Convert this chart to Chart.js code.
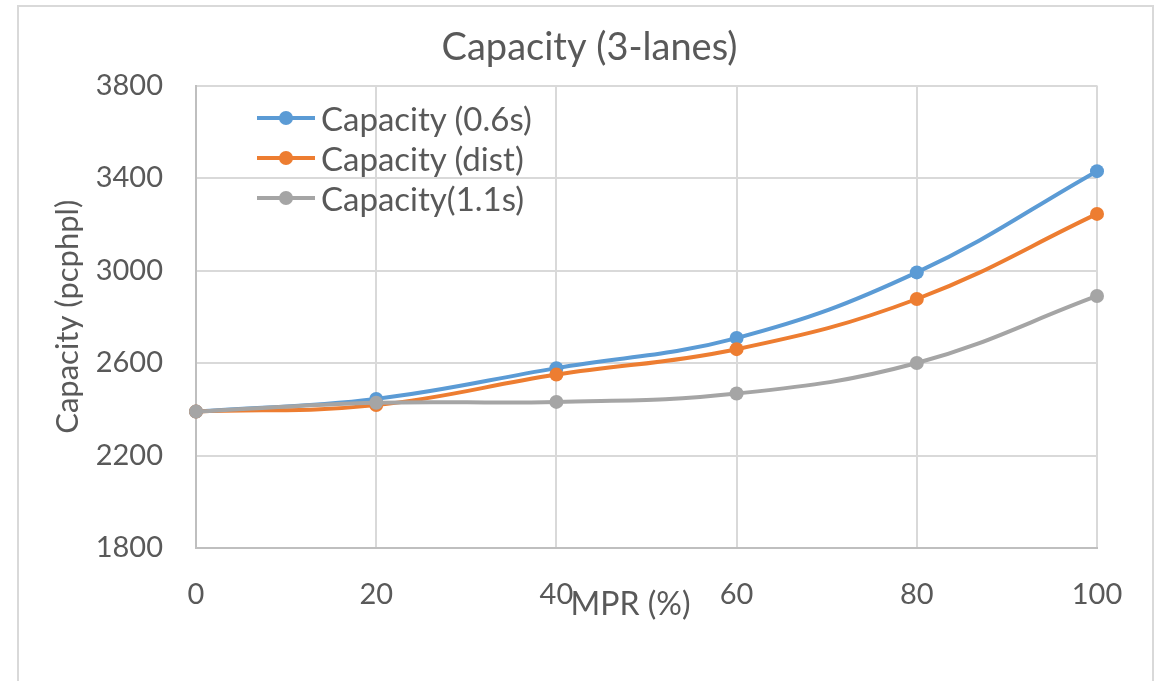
<!DOCTYPE html>
<html>
<head>
<meta charset="utf-8">
<title>Capacity (3-lanes)</title>
<script src="https://cdn.jsdelivr.net/npm/chart.js@4/dist/chart.umd.min.js"></script>
<style>
  html, body { margin: 0; padding: 0; background: #fff; }
  #wrap { position: relative; width: 1166px; height: 681px; overflow: hidden; }
  #frame {
    position: absolute; left: 17px; top: 5px; width: 1133px; height: 720px;
    border: 2px solid #d9d9d9;
  }
  #myChart { position: absolute; left: 0; top: 0; }
  #legend {
    position: absolute; left: 257px; top: 98px;
    font-family: Lato, sans-serif; font-size: 33px; color: #595959;
  }
  .row { display: flex; align-items: center; height: 40px; }
  .mark { position: relative; width: 58px; height: 14px; }
  .mark .ln { position: absolute; left: 0; right: 0; top: 5px; height: 4px; }
  .mark .dot { position: absolute; left: 22px; top: 0; width: 14px; height: 14px; border-radius: 50%; }
  .row span { margin-left: 6px; white-space: nowrap; }
</style>
</head>
<body>
<div id="wrap">
  <div id="frame"></div>
  <canvas id="myChart" width="1166" height="681"></canvas>
  <div id="legend"></div>
</div>
<script>
(() => {
  'use strict';

  // Data
  const mprLabels = ['0', '20', '40', '60', '80', '100'];
  const seriesNames = ['Capacity (0.6s)', 'Capacity (dist)', 'Capacity(1.1s)'];
  const capacity06 = [2390, 2445, 2578, 2708, 2992, 3430];
  const capacityDist = [2390, 2418, 2550, 2660, 2877, 3245];
  const capacity11 = [2390, 2428, 2432, 2468, 2600, 2890];
  const yTicks = [1800, 2200, 2600, 3000, 3400, 3800];

  const colors = ['#5b9bd5', '#ed7d31', '#a5a5a5'];
  const textColor = '#595959';
  const font = 'Lato';

  const ctx = document.getElementById('myChart');

  function makeDataset(label, data, color, order) {
    return {
      label: label,
      data: data,
      borderColor: color,
      backgroundColor: color,
      pointBackgroundColor: color,
      pointBorderColor: color,
      borderWidth: 4,
      pointRadius: 7,
      pointHoverRadius: 7,
      pointBorderWidth: 0,
      tension: 0.4,
      fill: false,
      order: order
    };
  }

  // x axis title sits over the tick labels, a bit left of centre
  const xTitlePlugin = {
    id: 'xTitle',
    afterDraw(chart) {
      const c = chart.ctx;
      const area = chart.chartArea;
      c.save();
      c.font = '32px ' + font;
      c.fillStyle = textColor;
      c.textAlign = 'center';
      c.textBaseline = 'middle';
      c.fillText('MPR (%)', (area.left + area.right) / 2 - 16, area.bottom + 57);
      c.restore();
    }
  };

  new Chart(ctx, {
    type: 'line',
    data: {
      labels: mprLabels,
      datasets: [
        makeDataset(seriesNames[0], capacity06, colors[0], 2),
        makeDataset(seriesNames[1], capacityDist, colors[1], 1),
        makeDataset(seriesNames[2], capacity11, colors[2], 0)
      ]
    },
    options: {
      responsive: false,
      animation: false,
      layout: { padding: { left: 13, right: 0, top: 0, bottom: 0 } },
      plugins: {
        legend: { display: false },
        tooltip: { enabled: false },
        title: {
          display: true,
          text: 'Capacity (3-lanes)',
          color: textColor,
          font: { family: font, size: 38, weight: 'normal' },
          padding: { top: 25, bottom: 15 }
        }
      },
      scales: {
        x: {
          offset: false,
          grid: { color: '#d9d9d9', lineWidth: 2, drawTicks: false },
          border: { color: '#bfbfbf', width: 2 },
          ticks: {
            color: textColor,
            font: { family: font, size: 29 },
            padding: 29,
            maxRotation: 0
          },
          afterFit: (scale) => { scale.height = 133; }
        },
        y: {
          min: yTicks[0],
          max: yTicks[yTicks.length - 1],
          afterBuildTicks: (scale) => { scale.ticks = yTicks.map(v => ({ value: v })); },
          grid: { color: '#d9d9d9', lineWidth: 2, drawTicks: false },
          border: { color: '#bfbfbf', width: 2 },
          ticks: {
            color: textColor,
            font: { family: font, size: 29 },
            padding: 33,
            callback: (value) => String(value)
          },
          title: {
            display: true,
            text: 'Capacity (pcphpl)',
            color: textColor,
            font: { family: font, size: 31 },
            padding: { top: 36, bottom: 0 }
          },
          afterFit: (scale) => { scale.width = 183; }
        },
        // empty axis on the right, only to reserve space like the original
        y2: {
          position: 'right',
          min: 0,
          max: 1,
          grid: { display: false, drawTicks: false },
          border: { display: false },
          ticks: { display: false },
          afterFit: (scale) => { scale.width = 69; }
        }
      }
    },
    plugins: [xTitlePlugin]
  });

  // Legend drawn as html inside the plot area
  const legend = document.getElementById('legend');
  seriesNames.forEach((name, i) => {
    const row = document.createElement('div');
    row.className = 'row';
    row.innerHTML = '<div class="mark"><div class="ln"></div><div class="dot"></div></div><span></span>';
    row.querySelector('.ln').style.background = colors[i];
    row.querySelector('.dot').style.background = colors[i];
    row.querySelector('span').textContent = name;
    legend.appendChild(row);
  });
})();
</script>
</body>
</html>
